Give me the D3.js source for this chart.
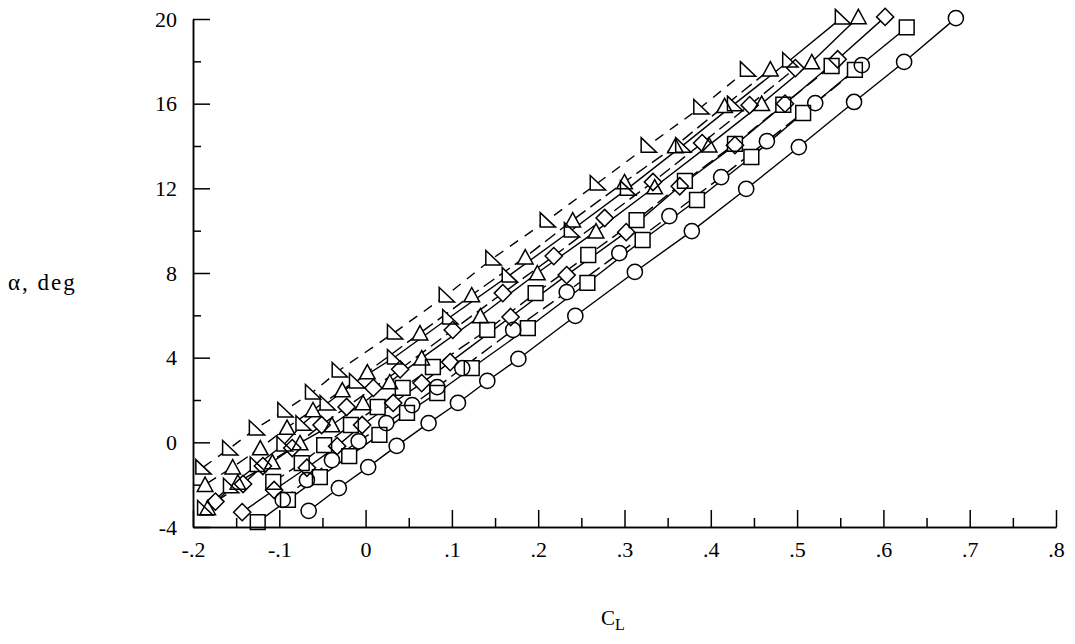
<!DOCTYPE html>
<html>
<head>
<meta charset="utf-8">
<script src="https://cdn.jsdelivr.net/npm/d3@7"></script>
<style>
  html, body { margin: 0; padding: 0; background: #fff; }
  svg { display: block; }
  text { font-family: "Liberation Serif", "Times New Roman", serif; fill: #000; }
</style>
</head>
<body>
<svg id="chart" width="1075" height="644"></svg>
<script>
// ---------- data (CL, alpha in deg) ----------
// Right-triangle, dashed
const rtDashCL    = [-0.188,-0.157,-0.126,-0.093,-0.061,-0.030,0.034,0.094,0.148,0.211,0.269,0.328,0.389,0.443];
const rtDashAlpha = [-1.17,-0.27,0.68,1.53,2.38,3.42,5.21,6.96,8.71,10.5,12.25,14.04,15.84,17.63];
// Right-triangle, solid
const rtSolidCL    = [-0.186,-0.156,-0.125,-0.094,-0.072,-0.044,-0.010,0.034,0.098,0.167,0.239,0.304,0.368,0.428,0.492,0.553];
const rtSolidAlpha = [-3.1,-2.05,-1.05,-0.08,0.9,1.86,2.9,4.03,5.92,7.9,10.03,12.0,14.04,16.0,18.06,20.1];
// Triangle, dashed
const trDashCL    = [-0.186,-0.154,-0.122,-0.091,-0.061,-0.027,0.002,0.063,0.123,0.185,0.240,0.300,0.359,0.416,0.469];
const trDashAlpha = [-2.0,-1.17,-0.27,0.7,1.53,2.47,3.32,5.16,6.96,8.75,10.5,12.3,14.0,15.9,17.63];
// Triangle, solid
const trSolidCL    = [-0.183,-0.148,-0.108,-0.076,-0.039,-0.003,0.028,0.065,0.133,0.199,0.267,0.335,0.398,0.459,0.517,0.571];
const trSolidAlpha = [-3.1,-1.89,-0.93,-0.03,0.82,1.86,2.85,3.98,5.97,8.0,9.98,12.06,14.04,16.0,17.97,20.1];
// Diamond, dashed
const diDashCL    = [-0.174,-0.142,-0.119,-0.085,-0.051,-0.022,0.009,0.040,0.101,0.159,0.218,0.277,0.333,0.390,0.445,0.498];
const diDashAlpha = [-2.8,-1.97,-1.12,-0.27,0.82,1.67,2.57,3.45,5.31,7.05,8.80,10.6,12.3,14.14,15.93,17.68];
// Diamond, solid
const diSolidCL    = [-0.143,-0.106,-0.068,-0.033,-0.004,0.032,0.065,0.098,0.168,0.233,0.302,0.364,0.428,0.486,0.547,0.602];
const diSolidAlpha = [-3.3,-2.25,-1.2,-0.18,0.82,1.86,2.80,3.79,5.92,7.90,9.93,12.1,14.04,16.0,18.1,20.1];
// Square, dashed
const sqDashCL    = [-0.107,-0.074,-0.048,-0.017,0.014,0.043,0.078,0.141,0.197,0.258,0.314,0.370,0.428,0.484,0.540];
const sqDashAlpha = [-1.87,-0.98,-0.13,0.82,1.67,2.57,3.56,5.31,7.05,8.85,10.5,12.35,14.1,15.95,17.78];
// Square, solid
const sqSolidCL    = [-0.125,-0.090,-0.053,-0.019,0.016,0.048,0.083,0.123,0.188,0.257,0.321,0.384,0.447,0.507,0.567,0.627];
const sqSolidAlpha = [-3.77,-2.72,-1.64,-0.65,0.35,1.39,2.33,3.51,5.40,7.53,9.56,11.45,13.48,15.56,17.6,19.6];
// Circle, dashed
const ciDashCL    = [-0.096,-0.068,-0.039,-0.008,0.024,0.054,0.083,0.112,0.171,0.233,0.294,0.352,0.412,0.465,0.521,0.575];
const ciDashAlpha = [-2.72,-1.78,-0.84,0.05,0.91,1.76,2.61,3.51,5.31,7.1,8.94,10.69,12.53,14.23,16.03,17.82];
// Circle, solid
const ciSolidCL    = [-0.066,-0.031,0.003,0.036,0.073,0.107,0.141,0.177,0.243,0.312,0.378,0.441,0.502,0.566,0.624,0.684];
const ciSolidAlpha = [-3.24,-2.16,-1.17,-0.17,0.91,1.86,2.90,3.94,5.97,8.05,9.98,11.97,13.95,16.08,17.97,20.04];

const xMajorTicks = [-0.2,-0.1,0,0.1,0.2,0.3,0.4,0.5,0.6,0.7,0.8];
const xTickLabels = ["-.2","-.1","0",".1",".2",".3",".4",".5",".6",".7",".8"];
const xMinorTicks = [-0.15,-0.05,0.05,0.15,0.25,0.35,0.45,0.55,0.65,0.75];
const yMajorTicks = [-4,0,4,8,12,16,20];
const yMinorTicks = [-2,2,6,10,14,18];

const series = [
  {cl: rtDashCL,  a: rtDashAlpha,  sym: "rtri", dash: "10,8"},
  {cl: rtSolidCL, a: rtSolidAlpha, sym: "rtri", dash: null},
  {cl: trDashCL,  a: trDashAlpha,  sym: "tri",  dash: "13,6"},
  {cl: trSolidCL, a: trSolidAlpha, sym: "tri",  dash: null},
  {cl: diDashCL,  a: diDashAlpha,  sym: "dia",  dash: "13,6"},
  {cl: diSolidCL, a: diSolidAlpha, sym: "dia",  dash: null},
  {cl: sqDashCL,  a: sqDashAlpha,  sym: "sq",   dash: "13,6"},
  {cl: sqSolidCL, a: sqSolidAlpha, sym: "sq",   dash: null},
  {cl: ciDashCL,  a: ciDashAlpha,  sym: "ci",   dash: "13,6"},
  {cl: ciSolidCL, a: ciSolidAlpha, sym: "ci",   dash: null}
];

// ---------- drawing ----------
const svg = d3.select("#chart");
const x = d3.scaleLinear().domain([-0.2, 0.8]).range([193, 1056]);
const y = d3.scaleLinear().domain([-4, 20]).range([527, 19]);

const symPath = {
  ci:   "M7.6,0A7.6,7.6 0 1,1 -7.6,0A7.6,7.6 0 1,1 7.6,0Z",
  sq:   "M-7.4,-7.4H7.4V7.4H-7.4Z",
  dia:  "M0,-8.6L8.6,0L0,8.6L-8.6,0Z",
  tri:  "M0,-7.5L7.8,6.8L-7.8,6.8Z",
  rtri: "M-7.5,-7.5L7.8,7L-7.5,7Z"
};

const line = d3.line().x(d => x(d[0])).y(d => y(d[1]));
const gLines = svg.append("g");
const gFill = svg.append("g");
const gMark = svg.append("g");

series.forEach(s => {
  const pts = s.cl.map((c, i) => [c, s.a[i]]);
  gLines.append("path")
    .attr("d", line(pts))
    .attr("fill", "none")
    .attr("stroke", "#000")
    .attr("stroke-width", 1.4)
    .attr("stroke-dasharray", s.dash);
  gFill.selectAll(null).data(pts).enter().append("path")
    .attr("d", symPath[s.sym])
    .attr("transform", d => `translate(${x(d[0])},${y(d[1])})`)
    .attr("fill", "#fff").attr("stroke", "none");
  gMark.selectAll(null).data(pts).enter().append("path")
    .attr("d", symPath[s.sym])
    .attr("transform", d => `translate(${x(d[0])},${y(d[1])})`)
    .attr("fill", "none").attr("stroke", "#000").attr("stroke-width", 1.5);
});

// axes
const xAxis = d3.axisBottom(x).tickValues(xMajorTicks)
  .tickFormat((d, i) => xTickLabels[i]).tickSize(-17).tickSizeOuter(0).tickPadding(14);
const xAxisMinor = d3.axisBottom(x).tickValues(xMinorTicks)
  .tickFormat("").tickSize(-9).tickSizeOuter(0);
const yAxis = d3.axisLeft(y).tickValues(yMajorTicks)
  .tickFormat(d => String(d)).tickSize(-17).tickSizeOuter(0).tickPadding(16);
const yAxisMinor = d3.axisLeft(y).tickValues(yMinorTicks)
  .tickFormat("").tickSize(-8).tickSizeOuter(0);

function styleAxis(g) {
  g.selectAll("path, line").attr("stroke", "#000").attr("stroke-width", 1.5);
  g.selectAll("text").style("font-family", '"Liberation Serif", serif').style("font-size", "22px").attr("fill", "#000");
}
svg.append("g").attr("transform", "translate(0,527)").call(xAxis).call(styleAxis);
svg.append("g").attr("transform", "translate(0,527)").call(xAxisMinor).call(styleAxis);
svg.append("g").attr("transform", "translate(193,0)").call(yAxis).call(styleAxis);
svg.append("g").attr("transform", "translate(193,0)").call(yAxisMinor).call(styleAxis);

// axis titles
const yt = svg.append("text").attr("x", 8).attr("y", 290)
  .style("font-size", "23px").style("letter-spacing", "2px");
yt.text("α, deg");

const xt = svg.append("text").attr("x", 601).attr("y", 625).style("font-size", "21px");
xt.append("tspan").text("C");
xt.append("tspan").attr("dy", 5).style("font-size", "16px").text("L");
</script>
</body>
</html>
